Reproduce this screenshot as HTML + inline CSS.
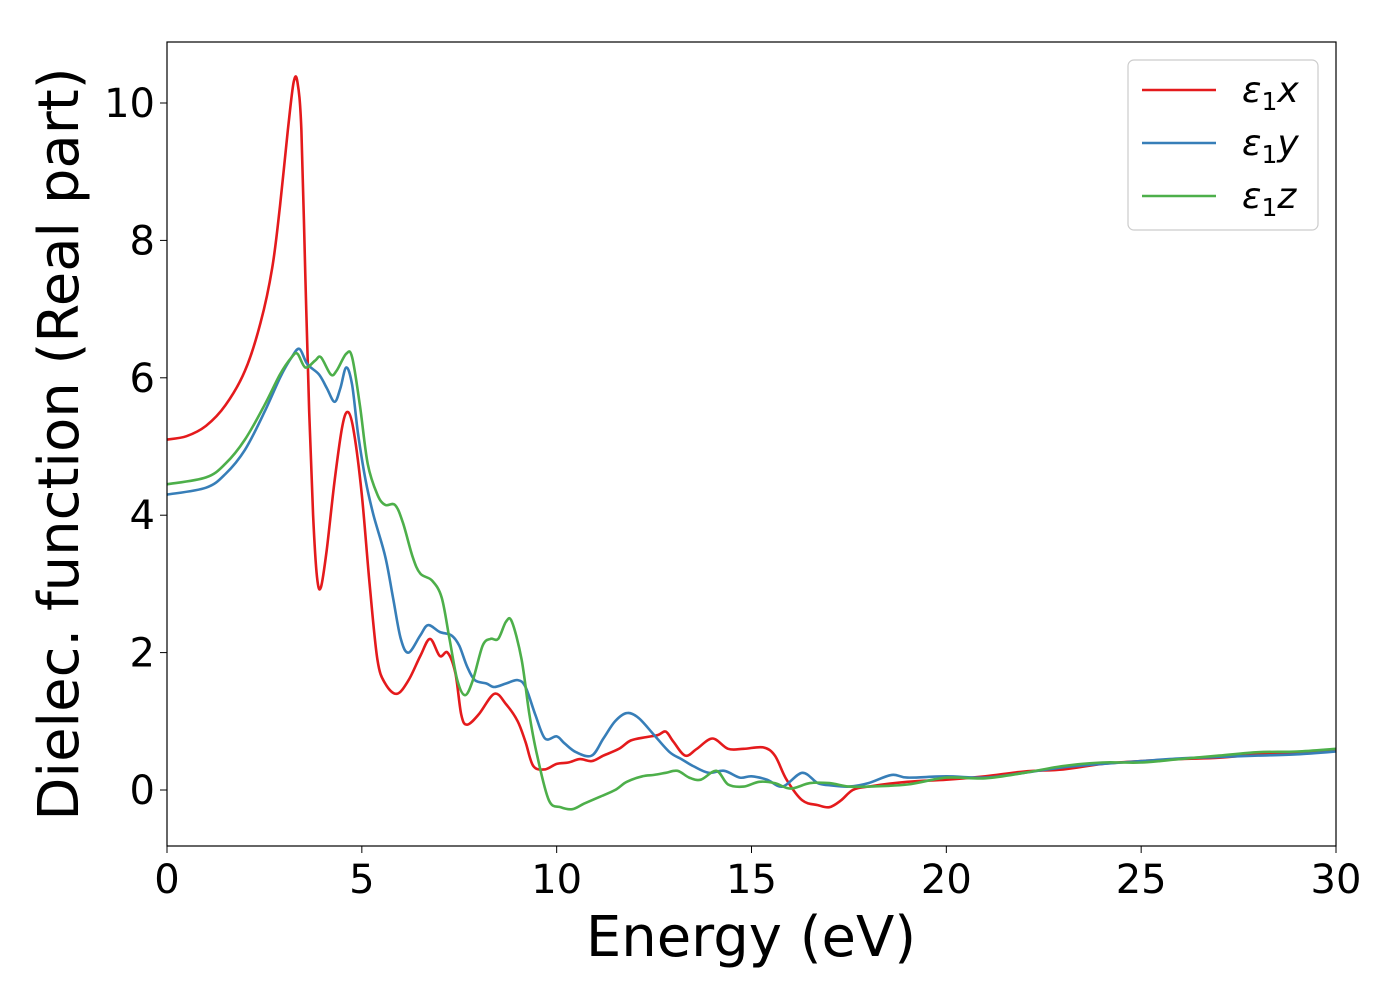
<!DOCTYPE html>
<html><head><meta charset="utf-8"><style>
body{margin:0;background:#fff;}
svg text{font-family:"DejaVu Sans","Liberation Sans",sans-serif;fill:#000;}
</style></head><body>
<svg id="chart" width="1400" height="1000" viewBox="0 0 1400 1000" xmlns="http://www.w3.org/2000/svg">
<g id="series"></g>
<rect x="167" y="42" width="1169" height="804" fill="none" stroke="#000" stroke-width="1.2"/>
<g id="ticks"></g>
<text x="751" y="956" font-size="56" text-anchor="middle">Energy (eV)</text>
<text transform="translate(78,444) rotate(-90)" font-size="56" text-anchor="middle">Dielec. function (Real part)</text>
<g>
<rect x="1128" y="60" width="190" height="170" rx="6" fill="#fff" stroke="#ccc" stroke-width="1.2"/>
<line x1="1142" y1="90" x2="1216" y2="90" stroke="#e41a1c" stroke-width="2.5"/>
<text x="1242" y="102" font-size="36" font-style="italic">ε<tspan font-size="25" dy="8" font-style="normal">1</tspan><tspan dy="-8">x</tspan></text>
<line x1="1142" y1="143" x2="1216" y2="143" stroke="#377eb8" stroke-width="2.5"/>
<text x="1242" y="155" font-size="36" font-style="italic">ε<tspan font-size="25" dy="8" font-style="normal">1</tspan><tspan dy="-8">y</tspan></text>
<line x1="1142" y1="196" x2="1216" y2="196" stroke="#4daf4a" stroke-width="2.5"/>
<text x="1242" y="208" font-size="36" font-style="italic">ε<tspan font-size="25" dy="8" font-style="normal">1</tspan><tspan dy="-8">z</tspan></text>
</g>
</svg>
<script>
const xTicks=[0,5,10,15,20,25,30];
const yTicks=[0,2,4,6,8,10];
const redX=[0,0.5,1,1.5,2,2.4,2.7,2.9,3.1,3.25,3.35,3.45,3.55,3.65,3.75,3.85,3.95,4.1,4.3,4.5,4.65,4.8,5.0,5.2,5.4,5.6,5.9,6.2,6.5,6.75,7.0,7.2,7.4,7.55,7.7,8.0,8.4,8.7,9.0,9.2,9.4,9.7,10.0,10.3,10.6,10.9,11.2,11.6,11.9,12.3,12.6,12.8,13.0,13.3,13.6,14.0,14.4,14.8,15.3,15.6,15.9,16.3,16.7,17.0,17.3,17.6,18,19,20,21,22,23,24,25,26,27,28,29,30];
const redY=[5.1,5.15,5.3,5.6,6.1,6.8,7.6,8.5,9.6,10.3,10.3,9.6,7.5,5.5,4.0,3.1,2.95,3.5,4.5,5.3,5.5,5.2,4.3,3.0,1.9,1.55,1.4,1.6,1.95,2.2,1.95,2.0,1.7,1.1,0.95,1.1,1.4,1.25,1.0,0.7,0.35,0.3,0.38,0.4,0.45,0.42,0.5,0.6,0.72,0.77,0.8,0.85,0.7,0.5,0.6,0.75,0.6,0.6,0.62,0.5,0.15,-0.15,-0.22,-0.25,-0.15,0.0,0.05,0.12,0.15,0.2,0.27,0.3,0.38,0.42,0.45,0.47,0.52,0.55,0.58];
const blueX=[0,1,1.5,2,2.5,2.9,3.2,3.4,3.6,3.9,4.1,4.3,4.45,4.6,4.75,4.9,5.1,5.3,5.6,5.8,6.0,6.2,6.5,6.7,7.0,7.3,7.5,7.7,7.9,8.2,8.4,8.7,9.0,9.2,9.45,9.7,10.0,10.2,10.5,10.9,11.2,11.5,11.8,12.1,12.5,12.9,13.2,13.5,13.9,14.3,14.7,15.0,15.4,15.8,16.3,16.7,17.0,17.5,18,18.6,19,20,21,22,23,24,25,26,27,28,29,30];
const blueY=[4.3,4.4,4.6,4.95,5.5,6.0,6.3,6.42,6.2,6.05,5.85,5.65,5.85,6.15,5.9,5.2,4.5,4.0,3.4,2.8,2.2,2.0,2.25,2.4,2.3,2.25,2.1,1.8,1.6,1.55,1.5,1.55,1.6,1.5,1.1,0.75,0.78,0.68,0.55,0.5,0.75,1.0,1.12,1.05,0.8,0.55,0.45,0.35,0.25,0.28,0.18,0.2,0.15,0.05,0.25,0.1,0.07,0.05,0.1,0.22,0.18,0.2,0.18,0.25,0.33,0.38,0.42,0.46,0.48,0.5,0.52,0.56];
const greenX=[0,1,1.5,2,2.5,2.9,3.2,3.35,3.55,3.8,3.95,4.2,4.35,4.6,4.75,4.95,5.15,5.4,5.6,5.85,6.05,6.3,6.5,6.8,7.05,7.25,7.45,7.65,7.85,8.1,8.3,8.5,8.7,8.85,9.1,9.3,9.5,9.8,10.1,10.4,10.7,11.1,11.5,11.8,12.2,12.5,12.8,13.1,13.4,13.7,14.1,14.4,14.8,15.2,15.6,16.0,16.5,17.0,17.5,18,19,20,21,22,23,24,25,26,27,28,29,30];
const greenY=[4.45,4.55,4.75,5.1,5.6,6.05,6.3,6.35,6.15,6.25,6.3,6.05,6.1,6.35,6.3,5.6,4.75,4.3,4.15,4.15,3.9,3.4,3.15,3.05,2.8,2.2,1.6,1.38,1.6,2.1,2.2,2.2,2.45,2.45,1.9,1.1,0.5,-0.15,-0.25,-0.28,-0.2,-0.1,0.0,0.12,0.2,0.22,0.25,0.28,0.18,0.15,0.28,0.08,0.05,0.12,0.1,0.02,0.1,0.1,0.05,0.05,0.08,0.18,0.17,0.25,0.35,0.4,0.4,0.45,0.5,0.55,0.56,0.6];
const X0=167,X1=1336,Y0=790,PY=68.7;
function sx(v){return X0+(X1-X0)*v/30;}
function sy(v){return Y0-PY*v;}
const NS="http://www.w3.org/2000/svg";
function smooth(xs,ys){
 const p=xs.map((x,i)=>[sx(x),sy(ys[i])]);
 let d="M"+p[0][0].toFixed(1)+","+p[0][1].toFixed(1);
 for(let i=0;i<p.length-1;i++){
  const a=p[Math.max(0,i-1)],b=p[i],c=p[i+1],e=p[Math.min(p.length-1,i+2)];
  const c1=[b[0]+(c[0]-a[0])/6,b[1]+(c[1]-a[1])/6],c2=[c[0]-(e[0]-b[0])/6,c[1]-(e[1]-b[1])/6];
  d+="C"+c1[0].toFixed(1)+","+c1[1].toFixed(1)+" "+c2[0].toFixed(1)+","+c2[1].toFixed(1)+" "+c[0].toFixed(1)+","+c[1].toFixed(1);
 }
 return d;
}
const sg=document.getElementById("series");
[[redX,redY,"#e41a1c","line-eps1-x"],[blueX,blueY,"#377eb8","line-eps1-y"],[greenX,greenY,"#4daf4a","line-eps1-z"]].forEach(s=>{
 const path=document.createElementNS(NS,"path");
 path.setAttribute("d",smooth(s[0],s[1]));
 path.setAttribute("fill","none");path.setAttribute("stroke",s[2]);path.setAttribute("stroke-width","2.6");
 
 
 sg.appendChild(path);
});
const tg=document.getElementById("ticks");
xTicks.forEach(v=>{
 const l=document.createElementNS(NS,"line");
 l.setAttribute("x1",sx(v));l.setAttribute("x2",sx(v));l.setAttribute("y1",846);l.setAttribute("y2",853);l.setAttribute("stroke","#000");
 
 
 tg.appendChild(l);
 const t=document.createElementNS(NS,"text");
 t.setAttribute("x",sx(v));t.setAttribute("y",893);t.setAttribute("font-size","40");t.setAttribute("text-anchor","middle");
 t.textContent=v;
 
 
 tg.appendChild(t);
});
yTicks.forEach(v=>{
 const l=document.createElementNS(NS,"line");
 l.setAttribute("x1",160);l.setAttribute("x2",167);l.setAttribute("y1",sy(v));l.setAttribute("y2",sy(v));l.setAttribute("stroke","#000");
 
 
 tg.appendChild(l);
 const t=document.createElementNS(NS,"text");
 t.setAttribute("x",155);t.setAttribute("y",sy(v)+14);t.setAttribute("font-size","40");t.setAttribute("text-anchor","end");
 t.textContent=v;
 
 
 tg.appendChild(t);
});
</script>
</body></html>
